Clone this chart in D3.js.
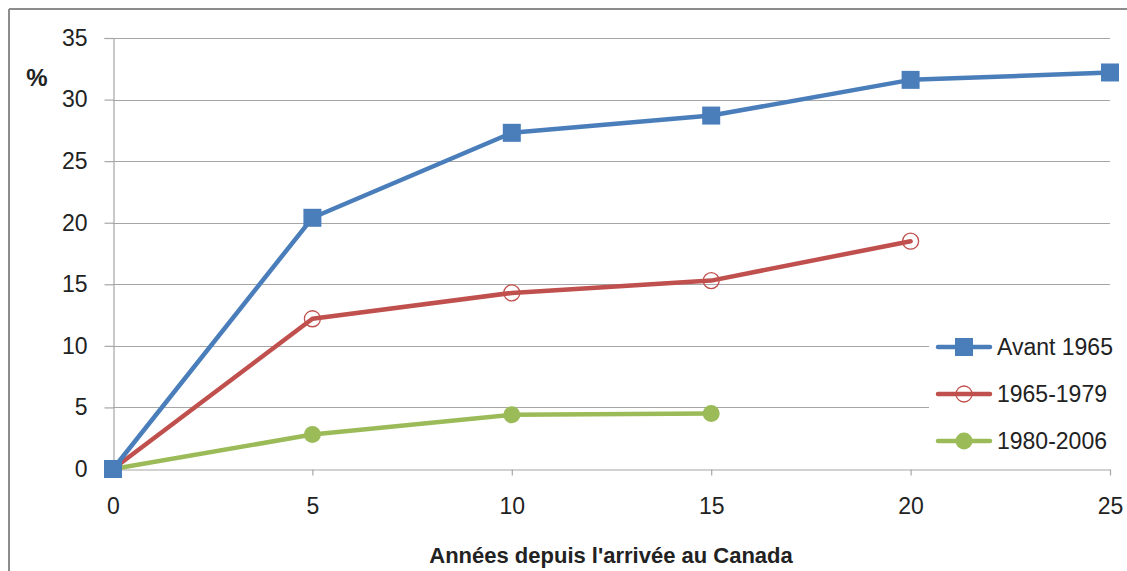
<!DOCTYPE html>
<html>
<head>
<meta charset="utf-8">
<script src="https://cdn.jsdelivr.net/npm/d3@7"></script>
<style>
  html, body { margin: 0; padding: 0; background: #fff; }
  svg { display: block; }
  text { font-family: "Liberation Sans", "DejaVu Sans", sans-serif; fill: #222; }
</style>
</head>
<body>
<svg id="chart" width="1127" height="571"></svg>
<script>
// Years since arrival in Canada
const years = [0, 5, 10, 15, 20, 25];
const yTicks = [0, 5, 10, 15, 20, 25, 30, 35];

// Share (%) per arrival cohort
const avant1965 = [0, 20.4, 27.3, 28.7, 31.6, 32.2];
const c1965_1979 = [0, 12.2, 14.3, 15.3, 18.5];
const c1980_2006 = [0, 2.8, 4.4, 4.5];

const seriesNames = ["Avant 1965", "1965-1979", "1980-2006"];
const seriesColors = ["#4A7EBB", "#C0504D", "#9BBB59"];
const seriesMarkers = ["square", "openCircle", "dot"];
const seriesValues = [avant1965, c1965_1979, c1980_2006];

const series = seriesNames.map((name, i) => ({
  name,
  color: seriesColors[i],
  marker: seriesMarkers[i],
  points: seriesValues[i].map((v, j) => ({ x: years[j], y: v }))
}));

const svg = d3.select("#chart");

// Outer frame (top and left edges visible)
svg.append("line").attr("x1", 9).attr("x2", 1127).attr("y1", 9).attr("y2", 9)
  .attr("stroke", "#8c8c8c").attr("stroke-width", 2);
svg.append("line").attr("x1", 9).attr("x2", 9).attr("y1", 9).attr("y2", 571)
  .attr("stroke", "#8c8c8c").attr("stroke-width", 2);

const x = d3.scaleLinear().domain([0, 25]).range([113, 1110]);
const y = d3.scaleLinear().domain([0, 35]).range([469, 38]);

// Horizontal gridlines
svg.append("g").selectAll("line").data(yTicks.filter(t => t > 0)).join("line")
  .attr("x1", x(0)).attr("x2", x(25))
  .attr("y1", d => Math.round(y(d)) + 0.5).attr("y2", d => Math.round(y(d)) + 0.5)
  .attr("stroke", "#a6a6a6").attr("stroke-width", 1.2);

// Y axis
const yAxis = svg.append("g").attr("transform", `translate(${x(0) + 0.5},0)`)
  .call(d3.axisLeft(y).tickValues(yTicks).tickSize(9).tickPadding(17));
yAxis.select(".domain").attr("stroke", "#a6a6a6").attr("stroke-width", 1.2);
yAxis.selectAll(".tick line").attr("stroke", "#a6a6a6").attr("stroke-width", 1.2);
yAxis.selectAll(".tick text").attr("font-size", 23).attr("fill", "#222")
  .attr("font-family", "'Liberation Sans', sans-serif");

// X axis
const xAxis = svg.append("g").attr("transform", `translate(0,${Math.round(y(0)) + 0.5})`)
  .call(d3.axisBottom(x).tickValues(years).tickSize(6).tickPadding(22).tickSizeOuter(0));
xAxis.select(".domain").attr("stroke", "#a6a6a6").attr("stroke-width", 1.2);
xAxis.selectAll(".tick line").attr("stroke", "#a6a6a6").attr("stroke-width", 1.2);
xAxis.selectAll(".tick text").attr("font-size", 23).attr("fill", "#222")
  .attr("font-family", "'Liberation Sans', sans-serif");

// Axis titles
svg.append("text").attr("x", 37).attr("y", 86).attr("text-anchor", "middle")
  .attr("font-size", 24).attr("font-weight", "bold").text("%");
svg.append("text").attr("x", 611).attr("y", 563).attr("text-anchor", "middle")
  .attr("font-size", 22).attr("font-weight", "bold").text("Années depuis l'arrivée au Canada");

// Legend background masks gridlines behind it
svg.append("rect").attr("x", 929).attr("y", 325).attr("width", 190).attr("height", 135)
  .attr("fill", "#fff");

function drawMarker(g, type, color, cx, cy, scale) {
  const s = scale || 1;
  if (type === "square") {
    g.append("rect").attr("x", cx - 9 * s).attr("y", cy - 9 * s)
      .attr("width", 18 * s).attr("height", 18 * s).attr("fill", color);
  } else if (type === "openCircle") {
    g.append("circle").attr("cx", cx).attr("cy", cy).attr("r", 8 * s)
      .attr("fill", "#fff").attr("fill-opacity", 0).attr("stroke", color).attr("stroke-width", 1.3);
  } else {
    g.append("circle").attr("cx", cx).attr("cy", cy).attr("r", 8.5 * s).attr("fill", color);
  }
}

const line = d3.line().x(d => x(d.x)).y(d => y(d.y));

// Draw series from last to first so the first series sits on top at the origin
series.slice().reverse().forEach(s => {
  const g = svg.append("g");
  g.append("path").datum(s.points).attr("d", line)
    .attr("fill", "none").attr("stroke", s.color).attr("stroke-width", 4.5)
    .attr("stroke-linejoin", "round").attr("stroke-linecap", "round");
});
series.slice().reverse().forEach(s => {
  const g = svg.append("g");
  s.points.forEach(p => drawMarker(g, s.marker, s.color, x(p.x), y(p.y)));
});

// Legend
const legendY = [347, 394, 441];
series.forEach((s, i) => {
  const g = svg.append("g");
  g.append("line").attr("x1", 938).attr("x2", 990).attr("y1", legendY[i]).attr("y2", legendY[i])
    .attr("stroke", s.color).attr("stroke-width", 4.5).attr("stroke-linecap", "round");
  drawMarker(g, s.marker, s.color, 964, legendY[i]);
  g.append("text").attr("x", 997).attr("y", legendY[i] + 8).attr("font-size", 23).text(s.name);
});
</script>
</body>
</html>
